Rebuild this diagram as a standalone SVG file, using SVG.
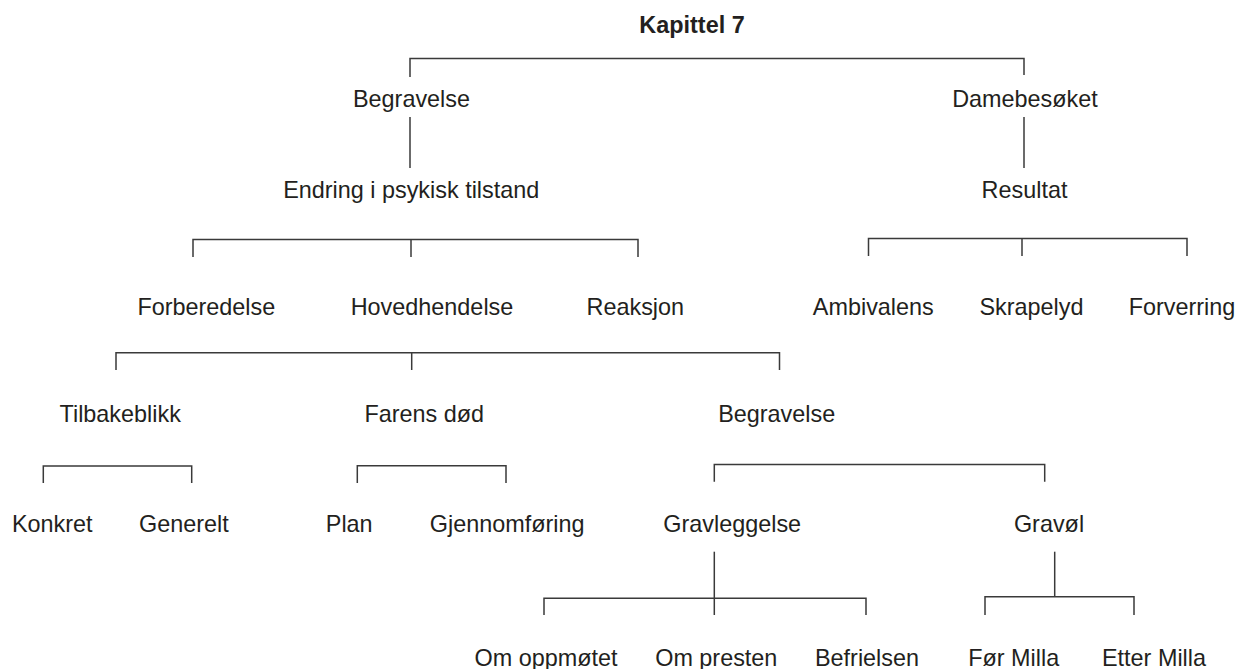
<svg xmlns="http://www.w3.org/2000/svg" width="1239" height="669" viewBox="0 0 1239 669">
<style>
  .bg { fill: #ffffff; }
  text { font-family: "Liberation Sans", Arial, Helvetica, sans-serif; font-size: 23.4px; fill: #231f20; text-anchor: middle; }
  .title { font-weight: bold; }
  .conn path { fill: none; stroke: #3a3a3a; stroke-width: 1.5; }
</style>
<rect class="bg" x="0" y="0" width="1239" height="669"/>
<g class="conn" id="connectors">
  <path d="M410,77 V58.5 H1024 V75"/>
  <path d="M410,117 V168"/>
  <path d="M1024,117 V168"/>
  <path d="M193,257 V239.5 H638 V257"/>
  <path d="M411,239.5 V257"/>
  <path d="M868.5,256 V238.5 H1187 V256"/>
  <path d="M1022,238.5 V256"/>
  <path d="M116,370 V352.7 H779.5 V370"/>
  <path d="M411.7,352.7 V370"/>
  <path d="M43.3,483 V466 H191.7 V483"/>
  <path d="M357.3,483 V465.7 H506 V483"/>
  <path d="M714.3,481.7 V464.5 H1044.7 V481.7"/>
  <path d="M714.3,551.7 V615"/>
  <path d="M544,615 V598.3 H866 V615"/>
  <path d="M1054.7,551.7 V596.7"/>
  <path d="M985,615 V596.7 H1134 V615"/>
</g>
<g id="n-kapittel"><text class="title" x="692" y="33">Kapittel 7</text></g>
<g id="n-begravelse"><text x="411.5" y="107">Begravelse</text></g>
<g id="n-damebesoket"><text x="1025" y="107">Damebesøket</text></g>
<g id="n-endring"><text x="411.2" y="197.5">Endring i psykisk tilstand</text></g>
<g id="n-resultat"><text x="1024.5" y="197.5">Resultat</text></g>
<g id="n-forberedelse"><text x="206.3" y="315">Forberedelse</text></g>
<g id="n-hovedhendelse"><text x="432" y="315">Hovedhendelse</text></g>
<g id="n-reaksjon"><text x="635.3" y="315">Reaksjon</text></g>
<g id="n-ambivalens"><text x="873.3" y="315">Ambivalens</text></g>
<g id="n-skrapelyd"><text x="1031.5" y="315">Skrapelyd</text></g>
<g id="n-forverring"><text x="1182" y="315">Forverring</text></g>
<g id="n-tilbakeblikk"><text x="120.2" y="421.7">Tilbakeblikk</text></g>
<g id="n-farensdod"><text x="424.2" y="421.7">Farens død</text></g>
<g id="n-begravelse2"><text x="776.7" y="421.7">Begravelse</text></g>
<g id="n-konkret"><text x="52.2" y="531.7">Konkret</text></g>
<g id="n-generelt"><text x="183.8" y="531.7">Generelt</text></g>
<g id="n-plan"><text x="349.2" y="531.7">Plan</text></g>
<g id="n-gjennomforing"><text x="507.2" y="531.7">Gjennomføring</text></g>
<g id="n-gravleggelse"><text x="732.2" y="531.7">Gravleggelse</text></g>
<g id="n-gravol"><text x="1049" y="531.7">Gravøl</text></g>
<g id="n-omoppmotet"><text x="546" y="666">Om oppmøtet</text></g>
<g id="n-ompresten"><text x="716.3" y="666">Om presten</text></g>
<g id="n-befrielsen"><text x="867" y="666">Befrielsen</text></g>
<g id="n-formilla"><text x="1013.7" y="666">Før Milla</text></g>
<g id="n-ettermilla"><text x="1154" y="666">Etter Milla</text></g>
</svg>
